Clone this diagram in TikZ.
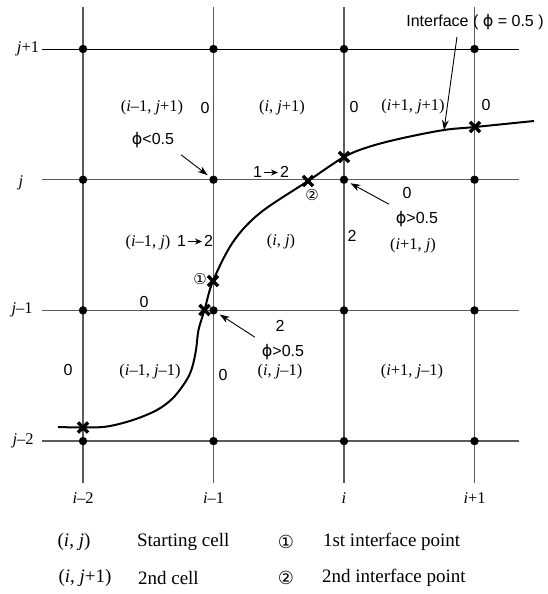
\documentclass[tikz,border=0pt]{standalone}
\usepackage{fontspec}
\setmainfont{Liberation Serif}
\setsansfont{Liberation Sans}
\newfontfamily\circfont{DejaVu Sans}
\usepackage{tikz}
\usetikzlibrary{arrows.meta, positioning, calc, shapes.misc}
\definecolor{gridgray}{RGB}{90,90,90}

\newcommand{\vi}{\textit{i}}
\newcommand{\vj}{\textit{j}}
\newcommand{\vphi}{{\circfont ϕ}}
\newcommand{\onetwo}{1\kern0.8pt\tikz[baseline=-0.6ex]\draw[-{Stealth[length=3.5pt,width=3pt]}, line width=0.4pt] (0,0) -- (7pt,0);\kern0.8pt2}

\begin{document}
\begin{tikzpicture}[x=0.5pt, y=-0.5pt,
  gline/.style={draw=gridgray, line width=0.65pt},
  gdot/.style={circle, fill=black, inner sep=0pt, minimum size=4.2pt},
  xmark/.style={cross out, draw=black, line width=1.7pt, inner sep=0pt, minimum size=3.4pt},
  cellt/.style={font=\fontsize{8.2}{10}\selectfont},
  numt/.style={font=\sffamily\fontsize{8}{10}\selectfont},
  axt/.style={font=\fontsize{8.2}{10}\selectfont},
  legt/.style={font=\fontsize{9.5}{11}\selectfont},
  circt/.style={font=\circfont\fontsize{7.5}{8}\selectfont, inner sep=0.5pt},
  ptr/.style={-{Stealth[length=5pt,width=3.4pt]}, line width=0.45pt, shorten >=1.4pt}]
  \useasboundingbox (0,0) rectangle (547,594);

  % grid
  \foreach \c in {0,...,3}
    \draw[gline] ({83+130.5*\c},7) -- ({83+130.5*\c},483);
  \draw[line width=0.5pt] (42,49) -- (519,49);
  \foreach \r in {1,2}
    \draw[gline] (42,{49+130.7*\r}) -- (519,{49+130.7*\r});
  \draw[gline, line width=1pt] (42,441) -- (519,441);

  \foreach \c in {0,...,3}
    \foreach \r in {0,...,3}
      \node[gdot] (d\c\r) at ({83+130.5*\c},{49+130.7*\r}) {};

  % interface curve
  \coordinate (x1) at (83,427.5);
  \coordinate (x2) at (204.5,310);
  \coordinate (x3) at (213,281);
  \coordinate (x4) at (308,181);
  \coordinate (x5) at (344,157);
  \coordinate (x6) at (475,127);
  \coordinate (ifp) at (444,130);
  \draw[line width=1pt] plot[smooth, tension=0.55] coordinates {(58,427) (x1) (107,426.5) (133,420) (157,410) (173,398) (186,381) (192,368) (196,350) (198.5,330) (x2) (x3) (233,242) (260,213) (x4) (x5) (370,146.5) (403,138) (ifp) (x6) (534,121)};
  \foreach \p in {x1,x2,x3,x4,x5,x6}
    \node[xmark] (m\p) at (\p) {};

  % axis labels
  \node[axt] (jp1) at (28,49) {\vj+1};
  \node[axt] (j0) at (21,183) {\vj};
  \node[axt] (jm1) at (22,310) {\vj–1};
  \node[axt] (jm2) at (23,441) {\vj–2};
  \node[axt] (im2) at (83,498) {\vi–2};
  \node[axt] (im1) at (213.5,498) {\vi–1};
  \node[axt] (i0) at (344,498) {\vi};
  \node[axt] (ip1) at (474.5,498) {\vi+1};

  % cell labels
  \node[cellt] (c11) at (152,108) {(\vi–1, \vj+1)};
  \node[cellt] (c21) at (282,108) {(\vi, \vj+1)};
  \node[cellt] (c31) at (413,107) {(\vi+1, \vj+1)};
  \node[cellt] (c12) at (148,243) {(\vi–1, \vj)};
  \node[cellt] (c22) at (281,242) {(\vi, \vj)};
  \node[cellt] (c32) at (413,246) {(\vi+1, \vj)};
  \node[cellt] (c13) at (150,372) {(\vi–1, \vj–1)};
  \node[cellt] (c23) at (280,372) {(\vi, \vj–1)};
  \node[cellt] (c33) at (412,372) {(\vi+1, \vj–1)};

  % edge values
  \node[numt] (n1) at (205,108) {0};
  \node[numt] (n2) at (354,107) {0};
  \node[numt] (n3) at (486,105) {0};
  \node[numt] (n4) at (271,172) {\onetwo};
  \node[numt] (n5) at (195,241) {\onetwo};
  \node[numt] (n6) at (407,193) {0};
  \node[numt] (n7) at (352,236) {2};
  \node[numt] (n8) at (144,302) {0};
  \node[numt] (n9) at (280,326) {2};
  \node[numt] (n10) at (68,370) {0};
  \node[numt] (n11) at (223,375) {0};

  % phi values and pointers
  \node[numt] (plt) at (153,140) {\vphi<0.5};
  \node[numt] (pgt1) at (417,219) {\vphi>0.5};
  \node[numt] (pgt2) at (283,352) {\vphi>0.5};
  \node[numt] (iface) at (475,22) {Interface ( \vphi{} = 0.5 )};
  \draw[ptr] (plt.south east) -- (d11);
  \draw[ptr] (pgt1.north west) -- (d21);
  \draw[ptr] (pgt2.north west) -- (d12);
  \draw[ptr, shorten >=0pt] ([xshift=-9pt]iface.south) -- (ifp);

  % interface points
  \node[circt] (cp1) at (200,279) {①};
  \node[circt] (cp2) at (312,195) {②};

  % legend
  \node[legt] (lg1) at (74,542) {(\vi, \vj)};
  \node[legt, anchor=west] (lg1t) at (130,542) {Starting cell};
  \node[legt] (lg2) at (85,578) {(\vi, \vj+1)};
  \node[legt, anchor=west] (lg2t) at (131,578) {2nd cell};
  \node[circt, font=\circfont\fontsize{9}{10}\selectfont] (lg3) at (286,542) {①};
  \node[legt, anchor=west] (lg3t) at (316,542) {1st interface point};
  \node[circt, font=\circfont\fontsize{9}{10}\selectfont] (lg4) at (286,578) {②};
  \node[legt, anchor=west] (lg4t) at (315,578) {2nd interface point};
\end{tikzpicture}
\end{document}
